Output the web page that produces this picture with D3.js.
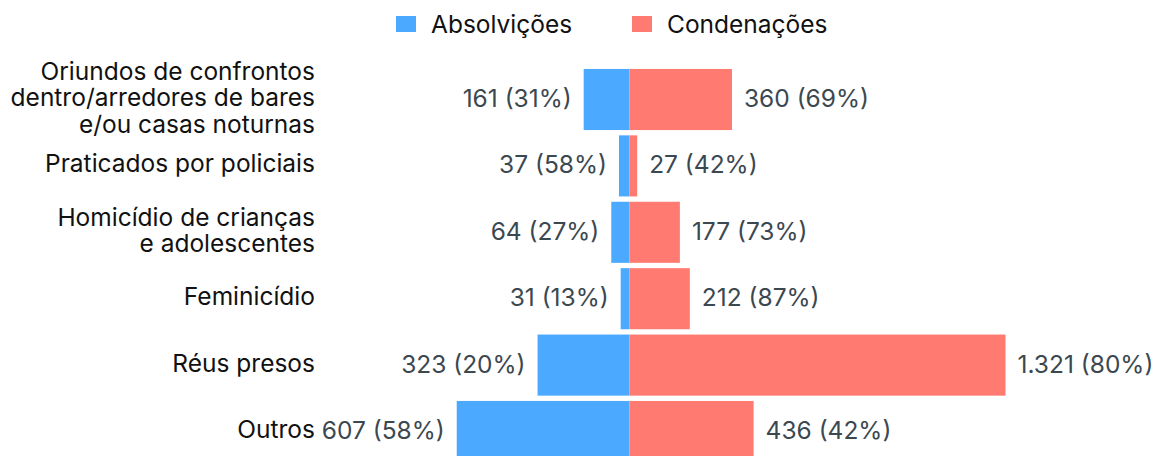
<!DOCTYPE html>
<html><head><meta charset="utf-8">
<script src="https://cdn.jsdelivr.net/npm/d3@7"></script>
<style>body{margin:0;background:#fff;} svg{display:block;font-family:Inter,"Noto Sans",sans-serif;}</style>
</head><body>
<svg id="chart" width="1157" height="456"></svg>
<script>
const categories = [
  ["Oriundos de confrontos","dentro/arredores de bares","e/ou casas noturnas"],
  ["Praticados por policiais"],
  ["Homicídio de crianças","e adolescentes"],
  ["Feminicídio"],
  ["Réus presos"],
  ["Outros"]
];
const absolvicoes = [161, 37, 64, 31, 323, 607];
const condenacoes = [360, 27, 177, 212, 1321, 436];
const absPct = [31, 58, 27, 13, 20, 58];
const condPct = [69, 42, 73, 87, 80, 42];
const seriesNames = ["Absolvições", "Condenações"];
const colors = ["#4BAAFF", "#FF7B72"];

const svg = d3.select("#chart");
const cx = 629.5, half = 376;
const maxV = d3.max(condenacoes.concat(absolvicoes));
const x = d3.scaleLinear().domain([-maxV, maxV]).range([cx - half, cx + half]);
const idx = d3.range(categories.length);
const y = d3.scaleBand().domain(idx).range([66.3, 464.7]).paddingInner(0.08).paddingOuter(0.04);
const fmt = v => d3.format(",")(v).replace(/,/g, ".");

// bars
svg.append("g").selectAll("rect").data(idx).join("rect")
  .attr("x", i => x(-absolvicoes[i])).attr("y", i => y(i))
  .attr("width", i => x(0) - x(-absolvicoes[i])).attr("height", y.bandwidth())
  .attr("fill", colors[0]);
svg.append("g").selectAll("rect").data(idx).join("rect")
  .attr("x", x(0)).attr("y", i => y(i))
  .attr("width", i => x(condenacoes[i]) - x(0)).attr("height", y.bandwidth())
  .attr("fill", colors[1]);

// value labels
const vfs = 24.5;
svg.append("g").selectAll("text").data(idx).join("text")
  .attr("x", i => x(-absolvicoes[i]) - 12).attr("y", i => y(i) + y.bandwidth()/2 - 1)
  .attr("dy", "0.35em").attr("text-anchor", "end")
  .attr("font-size", vfs).attr("fill", "#3b4850")
  .text(i => `${fmt(absolvicoes[i])} (${absPct[i]}%)`);
svg.append("g").selectAll("text").data(idx).join("text")
  .attr("x", i => x(condenacoes[i]) + 12).attr("y", i => y(i) + y.bandwidth()/2 - 1)
  .attr("dy", "0.35em").attr("text-anchor", "start")
  .attr("font-size", vfs).attr("fill", "#3b4850")
  .text(i => `${fmt(condenacoes[i])} (${condPct[i]}%)`);

// category labels
const lh = 26.5;
const cat = svg.append("g").selectAll("text").data(idx).join("text")
  .attr("x", 315).attr("text-anchor", "end")
  .attr("font-size", 24.5).attr("fill", "#111");
cat.each(function(i){
  const lines = categories[i];
  const c = y(i) + y.bandwidth()/2 - 2;
  const t0 = c - (lines.length - 1) * lh / 2;
  d3.select(this).selectAll("tspan").data(lines).join("tspan")
    .attr("x", 315).attr("y", (d, k) => t0 + k * lh).attr("dy", "0.35em").text(d => d);
});

// legend
const leg = svg.append("g");
const legX = [396, 632];
seriesNames.forEach((n, k) => {
  leg.append("rect").attr("x", legX[k]).attr("y", 16).attr("width", 20).attr("height", 16).attr("fill", colors[k]);
  leg.append("text").attr("x", legX[k] + 35).attr("y", 24).attr("dy", "0.35em")
    .attr("font-size", 24.5).attr("fill", "#111").text(n);
});
</script>
</body></html>
